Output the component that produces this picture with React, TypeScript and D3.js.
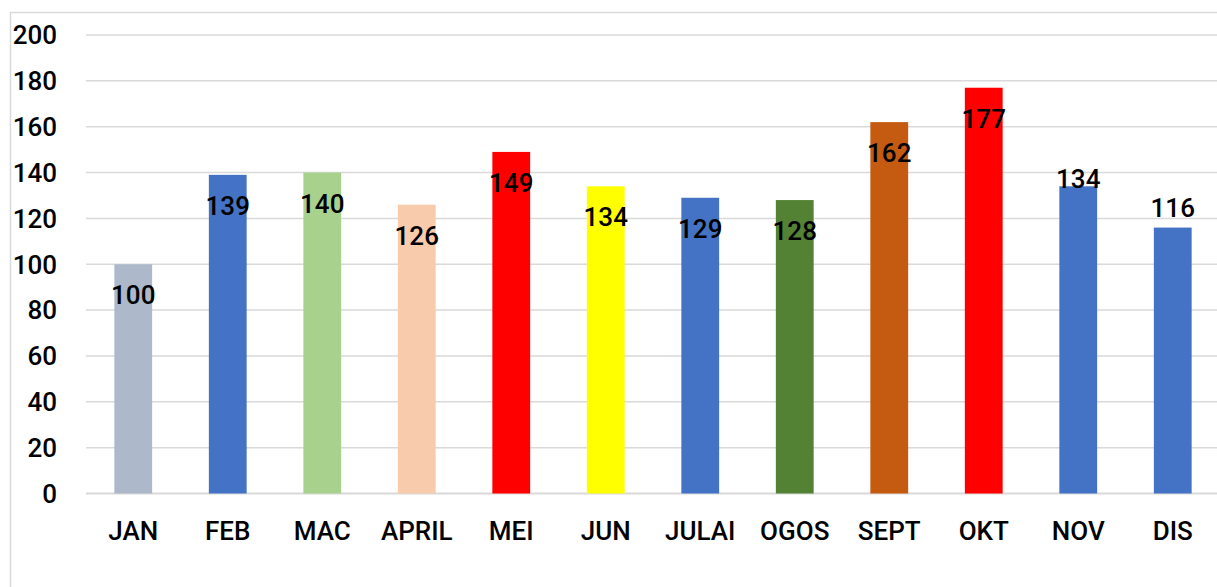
import React from 'react';
import * as d3 from 'd3';

// Monthly values
const months = ['JAN', 'FEB', 'MAC', 'APRIL', 'MEI', 'JUN', 'JULAI', 'OGOS', 'SEPT', 'OKT', 'NOV', 'DIS'];
const values = [100, 139, 140, 126, 149, 134, 129, 128, 162, 177, 134, 116];
const colors = ['#ADB9CA', '#4472C4', '#A9D18E', '#F8CBAD', '#FF0000', '#FFFF00', '#4472C4', '#548235', '#C55A11', '#FF0000', '#4472C4', '#4472C4'];
const y_ticks = [0, 20, 40, 60, 80, 100, 120, 140, 160, 180, 200];

// labels that sit above the bar instead of inside its top
const label_dy: Record<string, number> = {NOV: 2, DIS: -11};

const W = 1217;
const H = 587;
const font = 'Roboto, "DejaVu Sans", sans-serif';

export default function App() {
  const margin = {top: 35, right: -3, bottom: 94, left: 86};

  const x_scale = d3
    .scaleBand()
    .domain(months)
    .range([margin.left, W - margin.right])
    .paddingInner(0.6)
    .paddingOuter(0.3);

  const y_scale = d3
    .scaleLinear()
    .domain([0, 200])
    .range([H - margin.bottom + 0.5, margin.top]);

  return (
    <div style={{position: 'absolute', left: 0, top: 0, width: W, height: H, overflow: 'hidden'}}>
      <svg width={W} height={H} style={{display: 'block'}}>
        <rect x={0} y={0} width={W} height={H} fill='#fff' />
        {/* chart border */}
        <rect x={10.5} y={12.5} width={W + 20} height={H + 20} fill='none' stroke='#d9d9d9' strokeWidth={1.5} />

        {/* grid + y labels */}
        {y_ticks.map((t) => (
          <g key={t}>
            <line
              x1={margin.left}
              x2={W}
              y1={y_scale(t)}
              y2={y_scale(t)}
              stroke='#d9d9d9'
              strokeWidth={t === 0 ? 2 : 1.5}
            />
            <text
              x={57}
              y={y_scale(t)}
              dy='0.36em'
              textAnchor='end'
              fontFamily={font}
              fontSize={26}
              fontWeight={500}
              fill='#000'
            >
              {t}
            </text>
          </g>
        ))}

        {/* bars */}
        {months.map((m, i) => (
          <rect
            key={m}
            x={x_scale(m)}
            y={y_scale(values[i])}
            width={x_scale.bandwidth()}
            height={y_scale(0) - y_scale(values[i])}
            fill={colors[i]}
          />
        ))}

        {/* value labels */}
        {months.map((m, i) => (
          <text
            key={m}
            x={(x_scale(m) ?? 0) + x_scale.bandwidth() / 2}
            y={y_scale(values[i]) + (label_dy[m] ?? 40)}
            textAnchor='middle'
            fontFamily={font}
            fontSize={26}
            fontWeight={500}
            fill='#000'
          >
            {values[i]}
          </text>
        ))}

        {/* month labels */}
        {months.map((m) => (
          <text
            key={m}
            x={(x_scale(m) ?? 0) + x_scale.bandwidth() / 2}
            y={540}
            textAnchor='middle'
            fontFamily={font}
            fontSize={26}
            fontWeight={500}
            fill='#000'
          >
            {m}
          </text>
        ))}
      </svg>
    </div>
  );
}
